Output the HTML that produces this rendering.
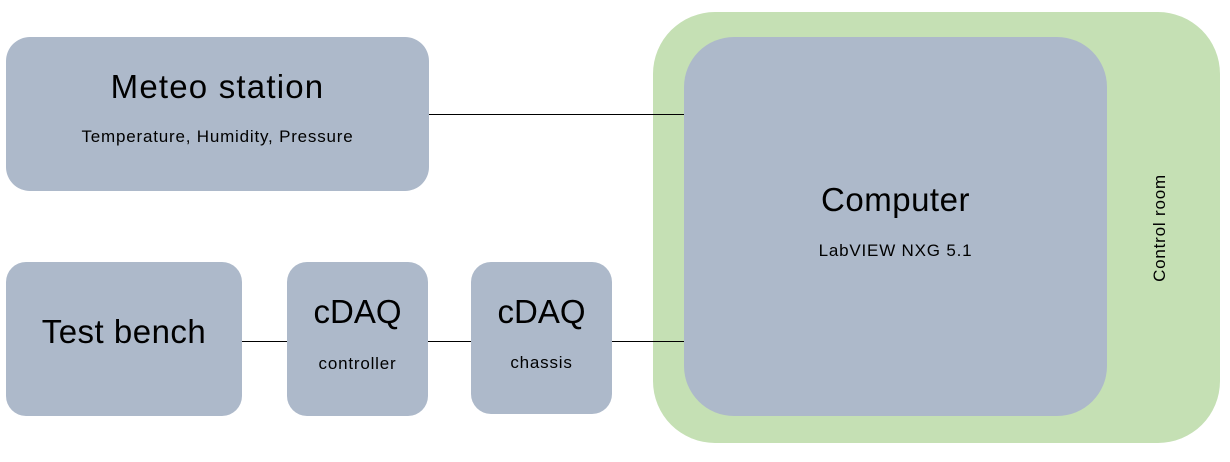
<!DOCTYPE html>
<html><head><meta charset="utf-8"><style>
body{margin:0;width:1230px;height:462px;background:#fff;position:relative;overflow:hidden;font-family:"Liberation Sans",sans-serif;color:#000}
.b{position:absolute;background:#adb9ca;}
.t{position:absolute;width:100%;text-align:center;left:0;white-space:nowrap}
.s{font-size:17px;letter-spacing:0.8px}
.h{font-size:33px}
.l{position:absolute;height:1px;background:#000}
</style></head><body>
<div class="b" style="left:653px;top:12px;width:567px;height:431px;border-radius:62px;background:#c5e0b4"></div>
<div class="b" style="left:6px;top:37px;width:423px;height:154px;border-radius:24px">
<div class="t h" style="top:31px;letter-spacing:1.2px">Meteo station</div>
<div class="t s" style="top:90px">Temperature, Humidity, Pressure</div></div>
<div class="b" style="left:6px;top:262px;width:236px;height:154px;border-radius:20px">
<div class="t h" style="top:51px;letter-spacing:0.5px">Test bench</div></div>
<div class="b" style="left:287px;top:262px;width:141px;height:154px;border-radius:20px">
<div class="t h" style="top:31px">cDAQ</div>
<div class="t s" style="top:92px">controller</div></div>
<div class="b" style="left:471px;top:262px;width:141px;height:152px;border-radius:20px">
<div class="t h" style="top:31px">cDAQ</div>
<div class="t s" style="top:91px">chassis</div></div>
<div class="b" style="left:684px;top:37px;width:423px;height:379px;border-radius:50px">
<div class="t h" style="top:144px;letter-spacing:0.5px">Computer</div>
<div class="t s" style="top:204px">LabVIEW NXG 5.1</div></div>
<div class="s" style="position:absolute;left:1160px;top:228px;transform:translate(-50%,-50%) rotate(-90deg);white-space:nowrap">Control room</div>
<div class="l" style="left:429px;top:114px;width:255px"></div>
<div class="l" style="left:242px;top:341px;width:45px"></div>
<div class="l" style="left:428px;top:341px;width:43px"></div>
<div class="l" style="left:612px;top:341px;width:72px"></div>
</body></html>
